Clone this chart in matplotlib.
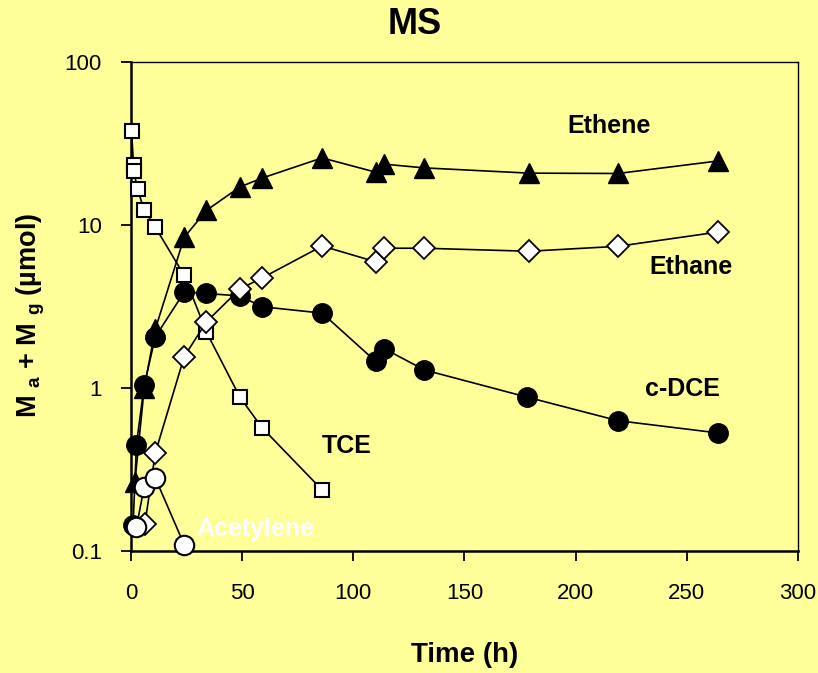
import matplotlib.pyplot as plt

plt.rcParams['font.family'] = ['Liberation Sans', 'DejaVu Sans']

# datos (tiempo en h, masa en umol)
t_tce = [0.3, 1.2, 1.3, 3, 6, 11, 24, 34, 49, 59, 86]
tce = [37.5, 23.4, 21.3, 16.6, 12.3, 9.7, 4.9, 2.2, 0.88, 0.57, 0.237]

t_ethene = [1.8, 6, 11, 24, 34, 49, 59, 86, 110, 114, 132, 179, 219, 264]
ethene = [0.265, 1.0, 2.3, 8.4, 12.3, 17.1, 19.4, 25.8, 21.1, 23.6, 22.4, 20.8, 20.7, 24.7]

t_cdce = [1, 2.5, 6, 11, 24, 34, 49, 59, 86, 110, 114, 132, 178, 219, 264]
cdce = [0.145, 0.45, 1.04, 2.06, 3.88, 3.8, 3.67, 3.15, 2.88, 1.46, 1.74, 1.29, 0.88, 0.63, 0.53]

t_ethane = [6.3, 11, 24, 34, 49, 59, 86, 110, 114, 132, 179, 219, 264]
ethane = [0.146, 0.40, 1.56, 2.55, 4.05, 4.73, 7.43, 5.95, 7.2, 7.2, 6.9, 7.4, 9.05]

t_acet = [2.5, 6, 11, 24]
acet = [0.14, 0.248, 0.28, 0.109]

fondo = '#FFFF99'

fig = plt.figure(figsize=(8.18, 6.73), dpi=100, facecolor=fondo)
ax = fig.add_axes([0.160, 0.1813, 0.8156, 0.7266], facecolor=fondo)

lw = 1.2
ax.plot(t_cdce, cdce, '-o', color='black', lw=lw, ms=14, mfc='black', mec='black', zorder=2, clip_on=False)
ax.plot(t_ethene, ethene, '-^', color='black', lw=lw, ms=14.5, mfc='black', mec='black', zorder=2, clip_on=False)
ax.plot(t_tce, tce, '-s', color='black', lw=lw, ms=10, mfc='white', mec='black', mew=1.5, zorder=3, clip_on=False)
ax.plot(t_ethane, ethane, '-D', color='black', lw=lw, ms=11, mfc='white', mec='black', mew=1.3, zorder=4, clip_on=False)
ax.plot(t_acet, acet, '-o', color='black', lw=lw, ms=14, mfc='white', mec='black', mew=1.5, zorder=5, clip_on=False)

ax.set_yscale('log')
ax.set_ylim(0.1, 100)
ax.set_xlim(0, 300)
ax.set_xticks([0, 50, 100, 150, 200, 250, 300])
ax.set_yticks([0.1, 1, 10, 100])
ax.set_yticklabels(['0.1', '1', '10', '100'])
ax.minorticks_off()
ax.tick_params(axis='both', labelsize=16, direction='out', length=7, width=1.3)
ax.tick_params(axis='y', pad=14)
ax.tick_params(axis='x', pad=16)

for lado in ['left', 'bottom']:
    ax.spines[lado].set_linewidth(1.8)
for lado in ['top', 'right']:
    ax.spines[lado].set_linewidth(1.0)

fig.text(415 / 818, 1 - 25 / 673, 'MS', fontsize=26, fontweight='bold', ha='center', va='center')
ax.set_xlabel('Time (h)', fontsize=20, fontweight='bold')
ax.xaxis.set_label_coords(0.5, -0.186)
ax.set_ylabel(r'M $_{\mathregular{a}}$ + M $_{\mathregular{g}}$ (µmol)', fontsize=19.5, fontweight='bold')
ax.yaxis.set_label_coords(-0.125, 0.482)

ax.text(215, 40.5, 'Ethene', fontsize=18, fontweight='bold', ha='center', va='center')
ax.text(252, 5.53, 'Ethane', fontsize=18, fontweight='bold', ha='center', va='center')
ax.text(248, 0.986, 'c-DCE', fontsize=18, fontweight='bold', ha='center', va='center')
ax.text(97, 0.44, 'TCE', fontsize=18, fontweight='bold', ha='center', va='center')
ax.text(56, 0.137, 'Acetylene', fontsize=18, fontweight='bold', color='white', ha='center', va='center')

fig.savefig('out.png', dpi=100, facecolor=fondo)
